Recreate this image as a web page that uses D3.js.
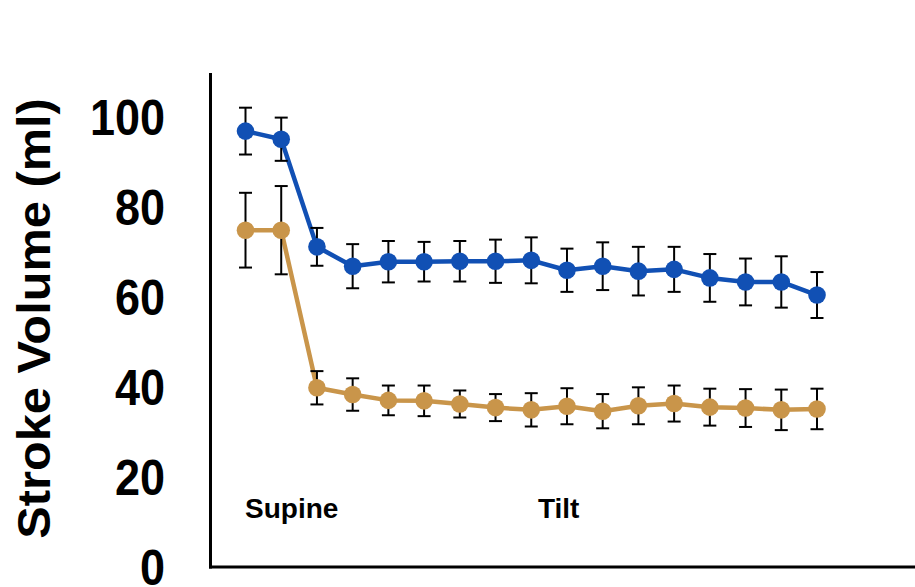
<!DOCTYPE html>
<html>
<head>
<meta charset="utf-8">
<script src="https://cdn.jsdelivr.net/npm/d3@7/dist/d3.min.js"></script>
<style>
  html, body { margin: 0; padding: 0; background: #ffffff; }
  svg { display: block; }
  text { font-family: "Liberation Sans", Arial, sans-serif; font-weight: bold; fill: #000; }
</style>
</head>
<body>
<svg id="chart" width="915" height="587"></svg>
<script>
// ---- data ----
const timePoints = d3.range(17); // 17 measurement points (2 supine + 15 tilt)
const seriesNames = ["Blue group", "Orange group"];
const blueMean = [96.8, 95.0, 71.1, 66.8, 67.8, 67.8, 67.9, 67.9, 68.1, 65.9, 66.8, 65.7, 66.1, 64.2, 63.3, 63.3, 60.4];
const blueErr  = [5.2, 4.8, 4.2, 4.9, 4.6, 4.4, 4.5, 4.8, 5.1, 4.8, 5.3, 5.4, 5.0, 5.3, 5.2, 5.7, 5.1];
const orangeMean = [74.8, 74.8, 39.8, 38.3, 37.0, 36.9, 36.2, 35.4, 34.9, 35.7, 34.6, 35.8, 36.3, 35.5, 35.3, 34.9, 35.1];
const orangeErr  = [8.3, 9.8, 3.7, 3.6, 3.3, 3.4, 3.0, 3.0, 3.7, 4.0, 3.8, 4.1, 4.0, 4.1, 4.2, 4.5, 4.5];
const yTicks = [0, 20, 40, 60, 80, 100];
const phaseLabels = ["Supine", "Tilt"];
const phaseStart = [0, 8.2];
const yTitle = "Stroke Volume (ml)";

// ---- layout ----
const svg = d3.select("#chart");
const axisX = 210.5, axisBottom = 567, axisTop = 73;

const x = d3.scaleLinear().domain([0, 16]).range([245.5, 817]);
const y = d3.scaleLinear().domain([0, 100]).range([axisBottom, 116.7]);

const series = [
  { name: seriesNames[0], mean: blueMean, err: blueErr, color: "#1150B4" },
  { name: seriesNames[1], mean: orangeMean, err: orangeErr, color: "#C9954A" }
];

// axes lines
svg.append("line").attr("x1", axisX).attr("x2", axisX).attr("y1", axisTop).attr("y2", axisBottom + 1.5)
  .attr("stroke", "#000").attr("stroke-width", 3);
svg.append("line").attr("x1", axisX - 1.5).attr("x2", 915).attr("y1", axisBottom).attr("y2", axisBottom)
  .attr("stroke", "#000").attr("stroke-width", 3);

// y tick labels
svg.append("g").selectAll("text").data(yTicks).join("text")
  .attr("transform", d => `translate(165,${y(d)}) scale(1,1.1)`)
  .attr("dy", "0.36em")
  .attr("text-anchor", "end")
  .style("font-size", "45px")
  .text(d => d);

// y title
svg.append("text")
  .attr("transform", `translate(50,${(100 + 537) / 2}) rotate(-90) scale(1.06,1)`)
  .attr("text-anchor", "middle")
  .style("font-size", "46px")
  .text(yTitle);

// phase labels
svg.append("g").selectAll("text").data(phaseLabels).join("text")
  .attr("x", (d, i) => x(phaseStart[i]) - 0.5)
  .attr("y", 518)
  .style("font-size", "28px")
  .text(d => d);

const line = d3.line().x((d, i) => x(timePoints[i])).y(d => y(d));

series.forEach(s => {
  svg.append("g").append("path").datum(s.mean)
    .attr("d", line)
    .attr("fill", "none").attr("stroke", s.color).attr("stroke-width", 4.5)
    .attr("stroke-linejoin", "round");
});

series.forEach(s => {
  const g = svg.append("g");
  const eb = g.selectAll("g.eb").data(s.mean).join("g");
  eb.append("line")
    .attr("x1", (d, i) => x(i)).attr("x2", (d, i) => x(i))
    .attr("y1", (d, i) => y(d + s.err[i])).attr("y2", (d, i) => y(d - s.err[i]))
    .attr("stroke", "#000").attr("stroke-width", 2);
  eb.append("line")
    .attr("x1", (d, i) => x(i) - 6.5).attr("x2", (d, i) => x(i) + 6.5)
    .attr("y1", (d, i) => y(d + s.err[i])).attr("y2", (d, i) => y(d + s.err[i]))
    .attr("stroke", "#000").attr("stroke-width", 2);
  eb.append("line")
    .attr("x1", (d, i) => x(i) - 6.5).attr("x2", (d, i) => x(i) + 6.5)
    .attr("y1", (d, i) => y(d - s.err[i])).attr("y2", (d, i) => y(d - s.err[i]))
    .attr("stroke", "#000").attr("stroke-width", 2);
});

series.forEach(s => {
  svg.append("g").selectAll("circle").data(s.mean).join("circle")
    .attr("cx", (d, i) => x(i)).attr("cy", d => y(d))
    .attr("r", 8.8).attr("fill", s.color);
});
</script>
</body>
</html>
